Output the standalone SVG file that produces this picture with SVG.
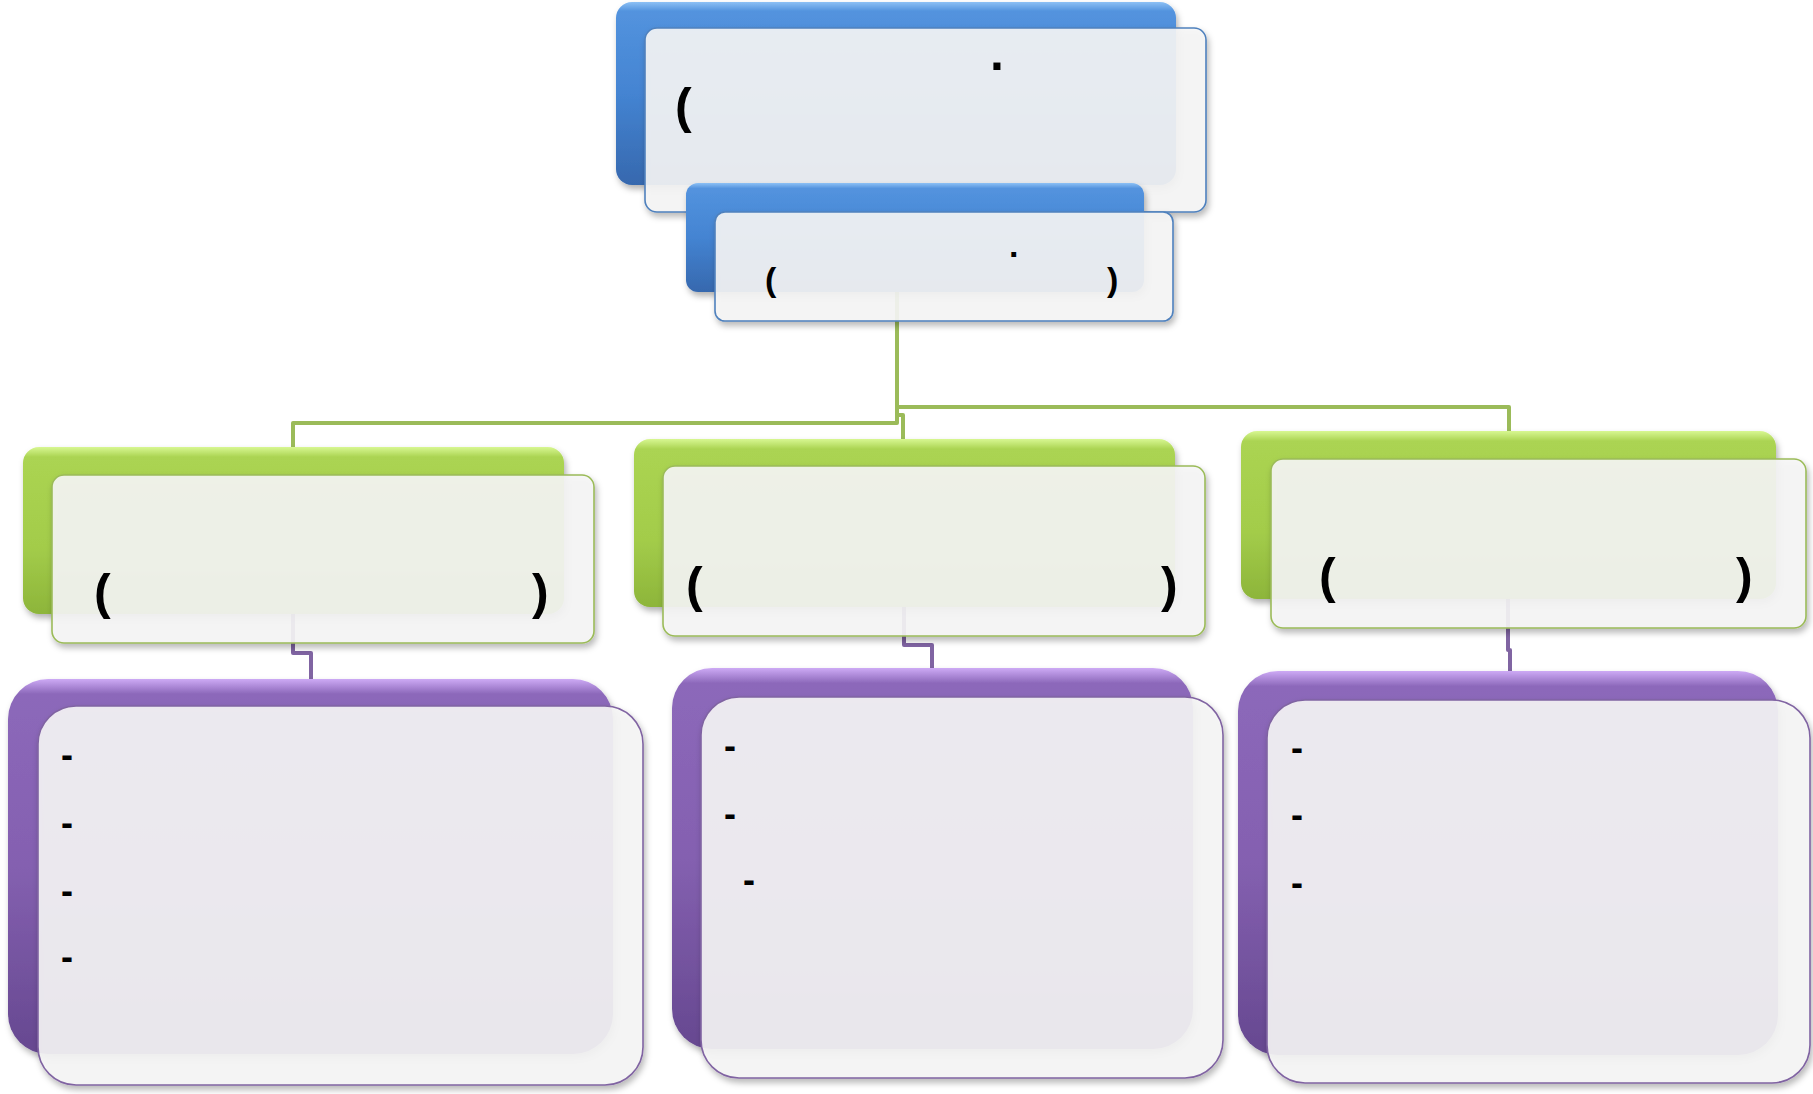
<svg xmlns="http://www.w3.org/2000/svg" width="1813" height="1094" viewBox="0 0 1813 1094">
<defs>
<linearGradient id="gBlue" x1="0" y1="0" x2="0" y2="1">
<stop offset="0" stop-color="#8CC0F5"/><stop offset="0.05" stop-color="#5393DE"/><stop offset="0.5" stop-color="#4484D2"/><stop offset="1" stop-color="#3668AE"/>
</linearGradient>
<linearGradient id="gGreen" x1="0" y1="0" x2="0" y2="1">
<stop offset="0" stop-color="#D8F792"/><stop offset="0.06" stop-color="#ABD452"/><stop offset="0.6" stop-color="#A3CC4A"/><stop offset="1" stop-color="#8DB53A"/>
</linearGradient>
<linearGradient id="gPurple" x1="0" y1="0" x2="0" y2="1">
<stop offset="0" stop-color="#CDAAF5"/><stop offset="0.04" stop-color="#8C68BA"/><stop offset="0.5" stop-color="#8460B0"/><stop offset="1" stop-color="#664890"/>
</linearGradient>
<filter id="sh" x="-10%" y="-10%" width="120%" height="130%">
<feDropShadow dx="2" dy="4" stdDeviation="3" flood-color="#000" flood-opacity="0.3"/>
</filter>
<style>
.back{filter:url(#sh)}
.front{fill:#F6F6F6;fill-opacity:0.9;stroke-width:1.6;filter:url(#sh)}
.fb{stroke:#4F81BD}
.fg{stroke:#9BBB59}
.fp{stroke:#8064A2}
.cg{fill:none;stroke:#9BBB59;stroke-width:4;stroke-linejoin:round}
.cp{fill:none;stroke:#8064A2;stroke-width:4;stroke-linejoin:round}
.t{font-family:"Liberation Sans",Arial,sans-serif;font-weight:bold;fill:#000}
.p40{font-size:50px}
.p28{font-size:34px}
.d{font-size:36px}
</style>
</defs>
<rect width="1813" height="1094" fill="#FFFFFF"/>
<g id="connectors">
<path class="cg" d="M897,292 V423 H293 V447"/>
<path class="cg" d="M897,407 H1509 V431"/>
<path class="cg" d="M897,415 H903 V439"/>
<path class="cp" d="M293,614 V653 H311 V679"/>
<path class="cp" d="M904,607 V645 H932 V668"/>
<path class="cp" d="M1508,599 V650 H1510 V671"/>
</g>
<g id="node-top">
<rect class="back" x="616" y="2" width="560" height="183" rx="16" fill="url(#gBlue)"/>
<rect class="front fb" x="645" y="28" width="561" height="184" rx="12"/>
<text class="t p40" x="675" y="123">(</text>
<text class="t p40" x="990" y="70">.</text>
</g>
<g id="node-sub">
<rect class="back" x="686" y="183" width="458" height="109" rx="12" fill="url(#gBlue)"/>
<rect class="front fb" x="715" y="212" width="458" height="109" rx="10"/>
<text class="t p28" x="765" y="291">(</text>
<text class="t p28" x="1107" y="291">)</text>
<text class="t p28" x="1009" y="257">.</text>
</g>
<g id="node-green-left">
<rect class="back" x="23" y="447" width="541" height="167" rx="16" fill="url(#gGreen)"/>
<rect class="front fg" x="52" y="475" width="542" height="168" rx="12"/>
<text class="t p40" x="94" y="609">(</text>
<text class="t p40" x="532" y="609">)</text>
</g>
<g id="node-green-mid">
<rect class="back" x="634" y="439" width="541" height="168" rx="16" fill="url(#gGreen)"/>
<rect class="front fg" x="663" y="466" width="542" height="170" rx="12"/>
<text class="t p40" x="686" y="602">(</text>
<text class="t p40" x="1161" y="602">)</text>
</g>
<g id="node-green-right">
<rect class="back" x="1241" y="431" width="535" height="168" rx="16" fill="url(#gGreen)"/>
<rect class="front fg" x="1271" y="459" width="535" height="169" rx="12"/>
<text class="t p40" x="1319" y="593">(</text>
<text class="t p40" x="1736" y="593">)</text>
</g>
<g id="node-purple-left">
<rect class="back" x="8" y="679" width="605" height="375" rx="40" fill="url(#gPurple)"/>
<rect class="front fp" x="38" y="706" width="605" height="379" rx="38"/>
<text class="t d" x="61" y="767">-</text>
<text class="t d" x="61" y="835">-</text>
<text class="t d" x="61" y="903">-</text>
<text class="t d" x="61" y="969">-</text>
</g>
<g id="node-purple-mid">
<rect class="back" x="672" y="668" width="521" height="381" rx="40" fill="url(#gPurple)"/>
<rect class="front fp" x="701" y="697" width="522" height="381" rx="38"/>
<text class="t d" x="724" y="758">-</text>
<text class="t d" x="724" y="826">-</text>
<text class="t d" x="743" y="892">-</text>
</g>
<g id="node-purple-right">
<rect class="back" x="1238" y="671" width="540" height="384" rx="40" fill="url(#gPurple)"/>
<rect class="front fp" x="1267" y="700" width="543" height="383" rx="38"/>
<text class="t d" x="1291" y="760">-</text>
<text class="t d" x="1291" y="827">-</text>
<text class="t d" x="1291" y="895">-</text>
</g>
</svg>
